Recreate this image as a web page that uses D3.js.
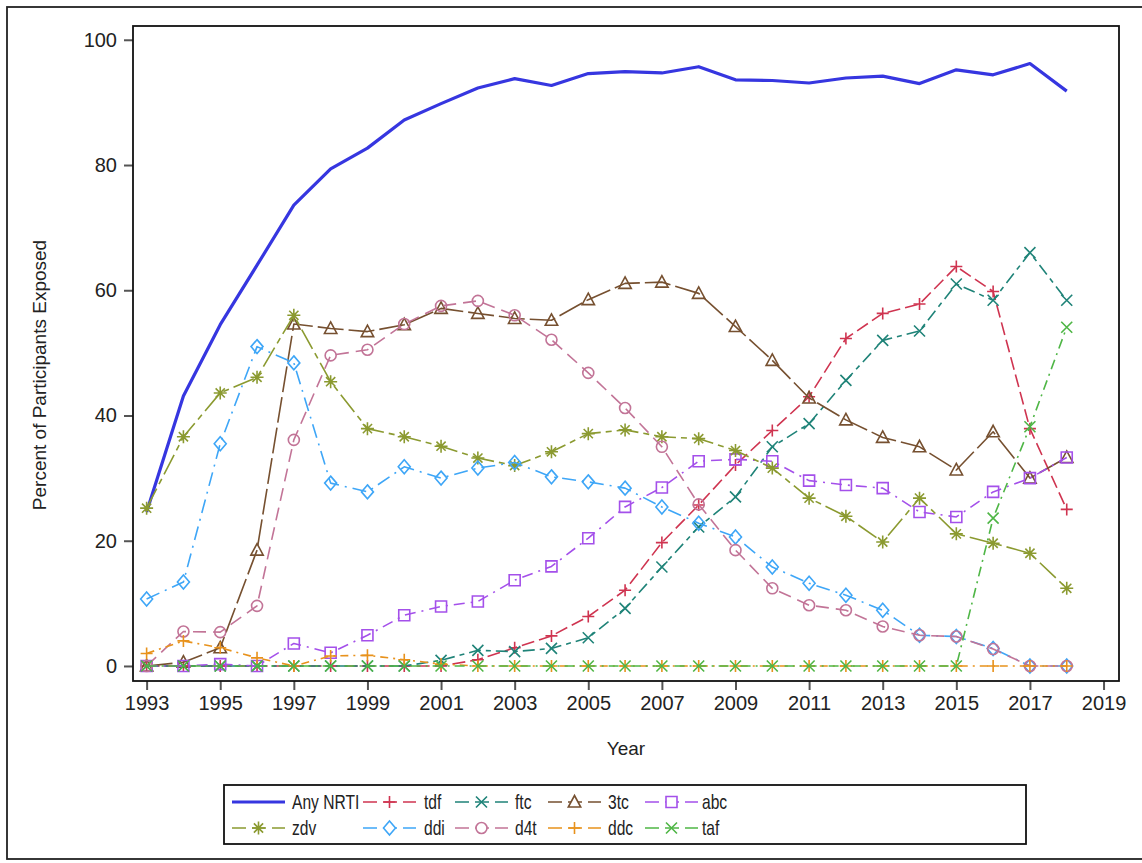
<!DOCTYPE html>
<html>
<head>
<meta charset="utf-8">
<script src="https://cdn.jsdelivr.net/npm/d3@7"></script>
<style>
  body { margin: 0; background: #fff; }
  svg { display: block; font-family: "Liberation Sans", Arial, sans-serif; }
</style>
</head>
<body>
<svg id="chart" width="1142" height="863"></svg>
<script>
// Years on the x axis
var years = [1993, 1994, 1995, 1996, 1997, 1998, 1999, 2000, 2001, 2002, 2003, 2004, 2005,
             2006, 2007, 2008, 2009, 2010, 2011, 2012, 2013, 2014, 2015, 2016, 2017, 2018];

// Percent of participants exposed, one array per drug
var anyNrti = [24.6, 43.1, 54.5, 64.0, 73.6, 79.4, 82.7, 87.2, 89.8, 92.3, 93.8, 92.7, 94.6,
               94.9, 94.7, 95.7, 93.6, 93.5, 93.1, 93.9, 94.2, 93.0, 95.2, 94.4, 96.2, 91.8];
var tdf = [0, 0, 0, 0, 0, 0, 0, 0, 0, 1.0, 2.9, 4.8, 7.9,
           12.1, 19.7, 25.7, 32.1, 37.6, 43.0, 52.3, 56.3, 57.8, 63.8, 59.8, 37.9, 25.0];
var ftc = [0, 0, 0, 0, 0, 0, 0, 0, 0.9, 2.5, 2.3, 2.8, 4.5,
           9.2, 15.8, 22.2, 27.0, 35.0, 38.7, 45.6, 52.0, 53.5, 61.0, 58.4, 66.0, 58.4];
var tc3 = [0, 0.6, 2.9, 18.5, 54.6, 53.9, 53.4, 54.5, 57.1, 56.3, 55.5, 55.2, 58.5,
           61.1, 61.3, 59.5, 54.2, 48.8, 42.8, 39.3, 36.5, 35.0, 31.3, 37.4, 30.0, 33.3];
var abc = [0, 0, 0.3, 0, 3.6, 2.1, 4.9, 8.1, 9.5, 10.3, 13.7, 15.9, 20.4,
           25.4, 28.5, 32.7, 33.0, 32.7, 29.6, 28.9, 28.4, 24.6, 23.8, 27.8, 30.0, 33.3];
var zdv = [25.2, 36.6, 43.6, 46.1, 56.0, 45.4, 37.9, 36.6, 35.1, 33.2, 32.0, 34.2, 37.1,
           37.7, 36.6, 36.3, 34.4, 31.6, 26.8, 23.9, 19.8, 26.8, 21.1, 19.6, 18.0, 12.4];
var ddi = [10.7, 13.4, 35.5, 51.0, 48.4, 29.2, 27.8, 31.8, 30.0, 31.6, 32.5, 30.2, 29.4,
           28.4, 25.4, 22.8, 20.6, 15.8, 13.2, 11.3, 8.9, 4.9, 4.7, 2.8, 0, 0];
var d4t = [0, 5.5, 5.4, 9.6, 36.1, 49.6, 50.5, 54.6, 57.5, 58.3, 56.0, 52.1, 46.8,
           41.2, 35.0, 25.8, 18.5, 12.4, 9.7, 8.9, 6.3, 4.9, 4.7, 2.7, 0, 0];
var ddc = [2.0, 4.0, 2.9, 1.3, 0, 1.6, 1.7, 1.0, 0.3, 0, 0, 0, 0,
           0, 0, 0, 0, 0, 0, 0, 0, 0, 0, 0, 0, 0];
var taf = [0, 0, 0, 0, 0, 0, 0, 0, 0, 0, 0, 0, 0,
           0, 0, 0, 0, 0, 0, 0, 0, 0, 0, 23.6, 38.2, 54.1];

var yTicks = [0, 20, 40, 60, 80, 100];
var xTicks = [1993, 1995, 1997, 1999, 2001, 2003, 2005, 2007, 2009, 2011, 2013, 2015, 2017, 2019];

// legend order: row 1 then row 2
var seriesNames = ["Any NRTI", "tdf", "ftc", "3tc", "abc", "zdv", "ddi", "d4t", "ddc", "taf"];
var seriesValues = [anyNrti, tdf, ftc, tc3, abc, zdv, ddi, d4t, ddc, taf];

// look of each series
var styles = {
    "Any NRTI": { color: "#3636e0", dash: null, marker: null, width: 3.2 },
    "tdf": { color: "#cf3450", dash: "13,5", marker: "plus", width: 1.6 },
    "ftc": { color: "#1f8378", dash: "12,5,5,5", marker: "x", width: 1.6 },
    "3tc": { color: "#765030", dash: "26,5", marker: "triangle", width: 1.6 },
    "abc": { color: "#a450ea", dash: "11,6,2,6", marker: "square", width: 1.6 },
    "zdv": { color: "#8b9a30", dash: "22,5,6,5", marker: "star", width: 1.6 },
    "ddi": { color: "#3ea6f7", dash: "14,6,2,6", marker: "diamond", width: 1.6 },
    "d4t": { color: "#c27497", dash: "13,7", marker: "circle", width: 1.6 },
    "ddc": { color: "#e8921c", dash: "8,5,2,5", marker: "plus", width: 1.6 },
    "taf": { color: "#4fb646", dash: "10,5,2,5", marker: "x", width: 1.6 }
};

var svg = d3.select("#chart");

var frame = { left: 133, right: 1119, top: 26, bottom: 681 };

var x = d3.scaleLinear().domain([1992.63, 2019.42]).range([frame.left, frame.right]);
var y = d3.scaleLinear().domain([-2.4, 102.2]).range([frame.bottom, frame.top]);

// outer border of the graph
svg.append("rect")
    .attr("x", 7).attr("y", 7)
    .attr("width", 1150).attr("height", 852)
    .attr("fill", "none")
    .attr("stroke", "#222")
    .attr("stroke-width", 1.8);

// axes
var xAxis = svg.append("g")
    .attr("transform", "translate(0," + frame.bottom + ")")
    .call(d3.axisBottom(x).tickValues(xTicks).tickFormat(d3.format("d")).tickSize(9).tickPadding(6));
var yAxis = svg.append("g")
    .attr("transform", "translate(" + frame.left + ",0)")
    .call(d3.axisLeft(y).tickValues(yTicks).tickSize(9).tickPadding(7));

[xAxis, yAxis].forEach(function (g) {
    g.select(".domain").remove();
    g.selectAll(".tick line").attr("stroke", "#555").attr("stroke-width", 2);
    g.selectAll(".tick text")
        .attr("fill", "#222")
        .attr("font-family", "'Liberation Sans', Arial, sans-serif")
        .attr("font-size", "20px");
});

svg.append("text")
    .attr("x", (frame.left + frame.right) / 2)
    .attr("y", 755)
    .attr("text-anchor", "middle")
    .attr("font-size", "19px")
    .attr("fill", "#222")
    .text("Year");

svg.append("text")
    .attr("transform", "translate(46,375) rotate(-90)")
    .attr("text-anchor", "middle")
    .attr("font-size", "19px")
    .attr("fill", "#222")
    .text("Percent of Participants Exposed");

// marker shapes
function markerPath(type) {
    switch (type) {
        case "plus": return "M-6,0H6M0,-6V6";
        case "x": return "M-5.5,-5.5L5.5,5.5M-5.5,5.5L5.5,-5.5";
        case "star": return "M-6.5,0H6.5M0,-6.5V6.5M-4.6,-4.6L4.6,4.6M-4.6,4.6L4.6,-4.6";
        case "triangle": return "M0,-6.5L6.2,5L-6.2,5Z";
        case "square": return "M-5.5,-5.5H5.5V5.5H-5.5Z";
        case "diamond": return "M0,-7L6,0L0,7L-6,0Z";
        case "circle": return "M-5.5,0A5.5,5.5 0 1,0 5.5,0A5.5,5.5 0 1,0 -5.5,0Z";
    }
    return "";
}

var line = d3.line()
    .x(function (d, i) { return x(years[i]); })
    .y(function (d) { return y(d); });

var plot = svg.append("g");

seriesNames.forEach(function (name, k) {
    var st = styles[name];
    var g = plot.append("g");
    g.append("path")
        .attr("d", line(seriesValues[k]))
        .attr("fill", "none")
        .attr("stroke", st.color)
        .attr("stroke-width", st.width)
        .attr("stroke-dasharray", st.dash)
        .attr("stroke-linejoin", "round");
    if (st.marker) {
        g.selectAll("path.mk")
            .data(seriesValues[k])
            .enter().append("path")
            .attr("class", "mk")
            .attr("transform", function (d, i) { return "translate(" + x(years[i]) + "," + y(d) + ")"; })
            .attr("d", markerPath(st.marker))
            .attr("fill", "none")
            .attr("stroke", st.color)
            .attr("stroke-width", 1.6);
    }
});

// plot frame
svg.append("rect")
    .attr("x", frame.left).attr("y", frame.top)
    .attr("width", frame.right - frame.left).attr("height", frame.bottom - frame.top)
    .attr("fill", "none")
    .attr("stroke", "#111")
    .attr("stroke-width", 1.8);

// legend
var legendBox = { x: 224, y: 785, w: 802, h: 59 };
svg.append("rect")
    .attr("x", legendBox.x).attr("y", legendBox.y)
    .attr("width", legendBox.w).attr("height", legendBox.h)
    .attr("fill", "#fff")
    .attr("stroke", "#111")
    .attr("stroke-width", 1.8);

var colStart = [232, 363, 455, 548, 645];
var colText = [292, 424, 515, 608, 702];
var rowY = [802, 828];

var legend = svg.append("g")
    .selectAll("g")
    .data(seriesNames)
    .enter().append("g")
    .attr("transform", function (d, i) {
        return "translate(" + colStart[i % 5] + "," + rowY[Math.floor(i / 5)] + ")";
    });

legend.append("line")
    .attr("x1", 0).attr("x2", 53)
    .attr("stroke", function (d) { return styles[d].color; })
    .attr("stroke-width", function (d) { return styles[d].width; })
    .attr("stroke-dasharray", function (d) { return styles[d].dash ? "14,6" : null; });

legend.filter(function (d) { return styles[d].marker; })
    .append("path")
    .attr("transform", "translate(26.5,0)")
    .attr("d", function (d) { return markerPath(styles[d].marker); })
    .attr("fill", "#fff")
    .attr("stroke", function (d) { return styles[d].color; })
    .attr("stroke-width", 1.6);

// the legend font in the original is a condensed face
legend.append("text")
    .attr("transform", function (d, i) {
        return "translate(" + (colText[i % 5] - colStart[i % 5]) + ",7) scale(0.78,1)";
    })
    .attr("font-size", "20px")
    .attr("fill", "#222")
    .text(function (d) { return d; });
</script>
</body>
</html>
